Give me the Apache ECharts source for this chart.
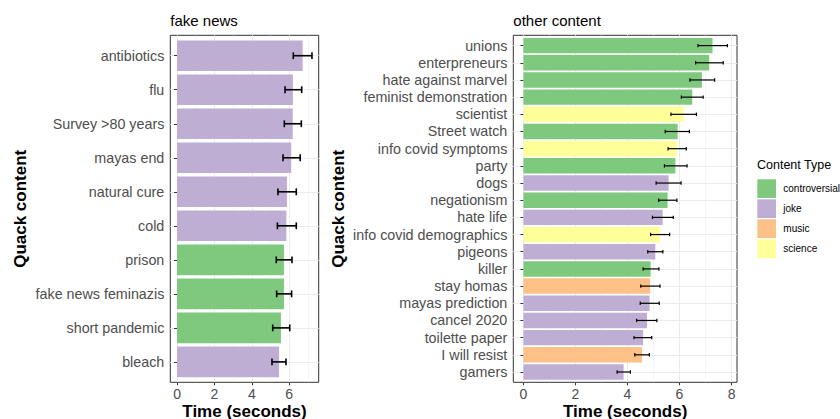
<!DOCTYPE html>
<html><head><meta charset="utf-8">
<script src="https://cdn.jsdelivr.net/npm/echarts@6/dist/echarts.min.js"></script>
<style>html,body{margin:0;padding:0;background:#fff}#c{width:840px;height:419px}</style>
</head><body><div id="c"></div>
<script>
// ---------- data ----------
const fakeNames = ['antibiotics','flu','Survey >80 years','mayas end','natural cure','cold','prison','fake news feminazis','short pandemic','bleach'];
const fakeMeans = [6.72,6.20,6.19,6.11,5.88,5.85,5.72,5.72,5.56,5.46];
const fakeLow   = [6.22,5.78,5.74,5.67,5.40,5.37,5.31,5.33,5.12,5.08];
const fakeHigh  = [7.22,6.67,6.65,6.59,6.38,6.38,6.15,6.13,6.03,5.83];
const fakeTypes = ['joke','joke','joke','joke','joke','joke','controversial','controversial','controversial','joke'];

const otherNames = ['unions','enterpreneurs','hate against marvel','feminist demonstration','scientist','Street watch','info covid symptoms','party','dogs','negationism','hate life','info covid demographics','pigeons','killer','stay homas','mayas prediction','cancel 2020','toilette paper','I will resist','gamers'];
const otherMeans = [7.27,7.14,6.86,6.49,6.15,5.93,5.90,5.84,5.58,5.54,5.35,5.25,5.07,4.89,4.87,4.85,4.75,4.60,4.56,3.85];
const otherLow   = [6.71,6.62,6.40,6.07,5.67,5.45,5.56,5.42,5.10,5.20,4.96,4.89,4.78,4.60,4.51,4.49,4.35,4.25,4.28,3.60];
const otherHigh  = [7.84,7.68,7.35,6.91,6.65,6.38,6.26,6.29,6.06,5.90,5.76,5.62,5.36,5.21,5.25,5.22,5.13,4.93,4.84,4.11];
const otherTypes = ['controversial','controversial','controversial','controversial','science','controversial','science','controversial','joke','controversial','joke','science','joke','controversial','music','joke','joke','joke','music','joke'];

const typeNames = ['controversial','joke','music','science'];
const typeColors = ['#7fc97f','#beaed4','#fdc086','#ffff99'];
const fakeTicks = [0,2,4,6];
const otherTicks = [0,2,4,6,8];

// ---------- layout ----------
const FONT = '"Liberation Sans", Arial, Helvetica, sans-serif';
const panels = [
  {title:'fake news', names:fakeNames, means:fakeMeans, low:fakeLow, high:fakeHigh, types:fakeTypes, ticks:fakeTicks,
   box:{l:170.3, r:318.7, t:35.3, b:382.3}, xmin:-0.36, xmax:7.58, errW:1.6, yTitleX:20.7},
  {title:'other content', names:otherNames, means:otherMeans, low:otherLow, high:otherHigh, types:otherTypes, ticks:otherTicks,
   box:{l:513.3, r:737.0, t:35.3, b:382.3}, xmin:-0.39, xmax:8.21, errW:1.2, yTitleX:338.3}
];

const grid = [], xAxis = [], yAxis = [], series = [], title = [], graphic = [];
panels.forEach((p, k) => {
  const n = p.names.length;
  const H = p.box.b - p.box.t;
  const W = p.box.r - p.box.l;
  const unit = H / (n + 0.2);
  const gbase = {left:p.box.l, width:W, containLabel:false, outerBoundsMode:'none'};
  grid.push(Object.assign({top:p.box.t, height:H, show:true, borderColor:'#333333', borderWidth:1, backgroundColor:'rgba(0,0,0,0)'}, gbase));
  grid.push(Object.assign({top:p.box.t + 0.1*unit, height:H - 0.2*unit}, gbase));
  grid.push(Object.assign({top:p.box.t + 0.6*unit, height:H - 1.2*unit}, gbase));
  const g0 = 3*k;
  xAxis.push({gridIndex:g0, type:'value', min:p.xmin, max:p.xmax,
    axisLine:{show:false},
    axisTick:{show:true, length:3, customValues:p.ticks, lineStyle:{color:'#333333', width:1}},
    axisLabel:{show:true, customValues:p.ticks, fontSize:14, color:'#4d4d4d', margin:5, fontFamily:FONT},
    splitLine:{show:true, lineStyle:{color:'#ebebeb', width:1}},
    minorTick:{show:false, splitNumber:2},
    minorSplitLine:{show:true, lineStyle:{color:'#ebebeb', width:0.5}},
    name:'Time (seconds)', nameLocation:'middle', nameGap:21, nameMoveOverlap:false,
    nameTextStyle:{fontSize:17, fontWeight:'bold', color:'#000', fontFamily:FONT}
  });
  xAxis.push({gridIndex:g0+1, type:'value', min:p.xmin, max:p.xmax, show:false});
  xAxis.push({gridIndex:g0+2, type:'value', min:p.xmin, max:p.xmax, show:false});
  yAxis.push({gridIndex:g0, type:'value', min:0, max:1, show:false});
  yAxis.push({gridIndex:g0+1, type:'category', data:p.names, inverse:true,
    axisLine:{show:false},
    axisTick:{show:true, alignWithLabel:true, interval:0, length:3, lineStyle:{color:'#333333', width:1}},
    axisLabel:{fontSize:14.3, color:'#4d4d4d', margin:6, interval:0, fontFamily:FONT},
    splitLine:{show:false}
  });
  yAxis.push({gridIndex:g0+2, type:'category', data:p.names, inverse:true, boundaryGap:false,
    axisLine:{show:false}, axisTick:{show:false}, axisLabel:{show:false},
    splitLine:{show:true, interval:0, lineStyle:{color:'#ebebeb', width:1}}
  });
  series.push({type:'bar', xAxisIndex:g0+1, yAxisIndex:g0+1, barCategoryGap:'10%', z:2,
    data:p.means.map((v,i) => ({value:v, itemStyle:{color:typeColors[typeNames.indexOf(p.types[i])]}})),
    silent:true
  });
  series.push({type:'custom', xAxisIndex:g0+1, yAxisIndex:g0+1, z:3, silent:true,
    encode:{x:[0,1], y:2},
    data:p.low.map((lo,i) => [lo, p.high[i], i]),
    renderItem:(params, api) => {
      const yi = api.value(2);
      const a = api.coord([api.value(0), yi]);
      const b = api.coord([api.value(1), yi]);
      const h = api.size([0,1])[1] * 0.2;
      const st = {stroke:'#000', lineWidth:p.errW, fill:null};
      return {type:'group', children:[
        {type:'line', shape:{x1:a[0], y1:a[1], x2:b[0], y2:b[1]}, style:st},
        {type:'line', shape:{x1:a[0], y1:a[1]-h/2, x2:a[0], y2:a[1]+h/2}, style:st},
        {type:'line', shape:{x1:b[0], y1:b[1]-h/2, x2:b[0], y2:b[1]+h/2}, style:st}
      ]};
    }
  });
  title.push({text:p.title, left:p.box.l, top:13, padding:0,
    textStyle:{fontSize:15, fontWeight:'normal', color:'#000', fontFamily:FONT}});
  graphic.push({type:'text', x:p.yTitleX, y:(p.box.t+p.box.b)/2, rotation:Math.PI/2,
    style:{text:'Quack content', fontSize:17, fontWeight:'bold', fontFamily:FONT, fill:'#000', align:'center', verticalAlign:'middle'}});
});

typeNames.forEach((t,i) => {
  series.push({type:'scatter', name:t, xAxisIndex:0, yAxisIndex:0, data:[], itemStyle:{color:typeColors[i], opacity:1}});
});
title.push({text:'Content Type', left:757, top:158.5, padding:0,
  textStyle:{fontSize:12.5, fontWeight:'normal', color:'#000', fontFamily:FONT}});

const chart = echarts.init(document.getElementById('c'), null, {renderer:'svg'});
chart.setOption({
  animation:false,
  backgroundColor:'#fff',
  title, grid, xAxis, yAxis, series, graphic,
  legend:{orient:'vertical', left:757.3, top:179.3, padding:0, itemWidth:18.7, itemHeight:18.7, itemGap:1.3,
    icon:'rect', selectedMode:false, data:typeNames, itemStyle:{opacity:1},
    textStyle:{fontSize:10, color:'#000', fontFamily:FONT, padding:[0,0,0,2.3]}}
});
</script></body></html>
